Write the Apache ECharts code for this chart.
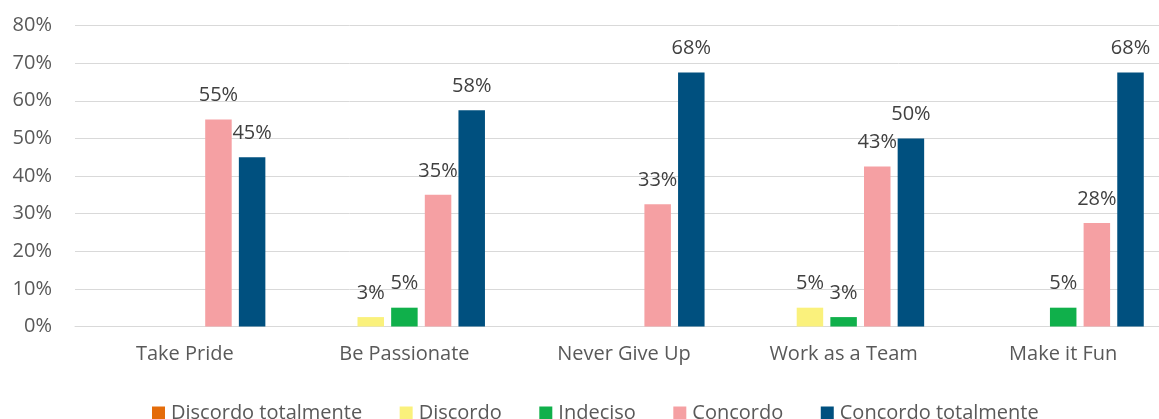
<!DOCTYPE html>
<html>
<head>
<meta charset="utf-8">
<script src="https://cdn.jsdelivr.net/npm/echarts@6/dist/echarts.min.js"></script>
<style>
html,body{margin:0;padding:0;background:#fff;overflow:hidden;width:1159px;height:419px;}
#chart{width:1180px;height:419px;}
</style>
</head>
<body>
<div id="chart"></div>
<script>
const categories = ['Take Pride', 'Be Passionate', 'Never Give Up', 'Work as a Team', 'Make it Fun'];
const seriesNames = ['Discordo totalmente', 'Discordo', 'Indeciso', 'Concordo', 'Concordo totalmente'];
const discordoTotalmente = [0, 0, 0, 0, 0];
const discordo = [0, 2.5, 0, 5, 0];
const indeciso = [0, 5, 0, 2.5, 5];
const concordo = [55, 35, 32.5, 42.5, 27.5];
const concordoTotalmente = [45, 57.5, 67.5, 50, 67.5];
const yTicks = { min: 0, max: 80, interval: 10 };

const colors = ['#E46C0A', '#FAF17C', '#10B04B', '#F5A0A3', '#00507F'];
const values = [discordoTotalmente, discordo, indeciso, concordo, concordoTotalmente];
const FONT = '"Open Sans", sans-serif';

const chart = echarts.init(document.getElementById('chart'), null, { renderer: 'canvas' });
chart.setOption({
  animation: false,
  backgroundColor: '#fff',
  grid: { left: 75, top: 25.5, width: 1098, bottom: 92.5, containLabel: false },
  legend: {
    data: seriesNames,
    left: 147,
    top: 398,
    icon: 'rect',
    itemWidth: 13,
    itemHeight: 13,
    itemGap: 37.5,
    textStyle: { fontFamily: FONT, fontSize: 20, color: '#595959', padding: [0, 0, 0, 1] }
  },
  xAxis: {
    type: 'category',
    data: categories,
    axisLine: { show: true, lineStyle: { color: '#D9D9D9', width: 1 } },
    axisTick: { show: false },
    axisLabel: { fontFamily: FONT, fontSize: 20, color: '#595959', margin: 18 }
  },
  yAxis: {
    type: 'value',
    min: yTicks.min,
    max: yTicks.max,
    interval: yTicks.interval,
    axisLine: { show: false },
    axisTick: { show: false },
    splitLine: { show: true, lineStyle: { color: '#D9D9D9', width: 1 } },
    axisLabel: { fontFamily: FONT, fontSize: 20, color: '#595959', margin: 23, formatter: '{value}%' }
  },
  series: seriesNames.map((name, i) => ({
    name: name,
    type: 'bar',
    data: values[i],
    barWidth: 26.5,
    barGap: '27%',
    itemStyle: { color: colors[i] },
    label: {
      show: true,
      position: 'top',
      distance: 14,
      fontFamily: FONT,
      fontSize: 20,
      color: '#404040',
      formatter: p => (p.value ? Math.round(p.value) + '%' : '')
    }
  }))
});
</script>
</body>
</html>
